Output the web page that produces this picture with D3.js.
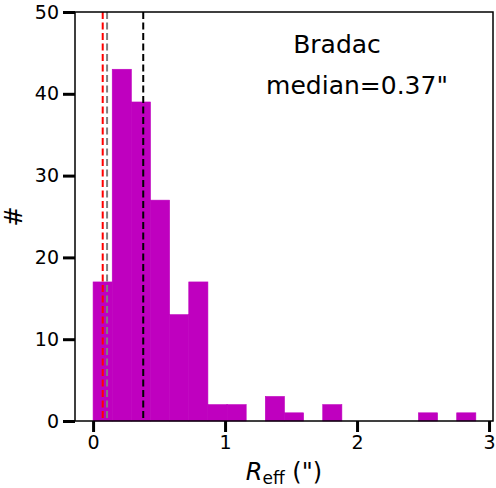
<!DOCTYPE html>
<html><head><meta charset="utf-8">
<script src="https://cdn.jsdelivr.net/npm/d3@7"></script>
<style>body{margin:0;background:#fff}svg{display:block}text{font-family:"DejaVu Sans",sans-serif}</style>
</head><body>
<script>
// data
const binWidth = 0.145;
const binStarts = d3.range(20).map(i => +(i * binWidth).toFixed(3));
const counts = [17, 43, 39, 27, 13, 17, 2, 2, 0, 3, 1, 0, 2, 0, 0, 0, 0, 1, 0, 1];
const xTicks = [0, 1, 2, 3];
const yTicks = [0, 10, 20, 30, 40, 50];
const refLines = [
  {value: 0.073, color: "#ff0000"},
  {value: 0.106, color: "#808080"},
  {value: 0.38, color: "#000000"}
];
const title = "Bradac";
const medianLabel = 'median=0.37"';

const W = 496, H = 488;
const m = {left: 75, right: 3, top: 12, bottom: 67};
const svg = d3.select("body").append("svg").attr("width", W).attr("height", H);
const x = d3.scaleLinear().domain([-0.137, 3.03]).range([m.left, W - m.right]);
const y = d3.scaleLinear().domain([0, 50]).range([H - m.bottom, m.top]);

svg.append("g").selectAll("rect").data(counts).join("rect")
  .attr("x", (d, i) => x(binStarts[i]))
  .attr("width", (d, i) => x(binStarts[i] + binWidth) - x(binStarts[i]))
  .attr("y", d => y(d))
  .attr("height", d => y(0) - y(d))
  .attr("fill", "#bf00bf").attr("stroke", "#bf00bf").attr("stroke-width", 0.6);

svg.append("g").selectAll("line").data(refLines).join("line")
  .attr("x1", d => x(d.value)).attr("x2", d => x(d.value))
  .attr("y1", y(50)).attr("y2", y(0))
  .attr("stroke", d => d.color).attr("stroke-width", 2)
  .attr("stroke-dasharray", "7,3.5");

// frame
svg.append("rect").attr("x", x.range()[0]).attr("y", m.top)
  .attr("width", x.range()[1] - x.range()[0]).attr("height", y(0) - m.top)
  .attr("fill", "none").attr("stroke", "#000").attr("stroke-width", 1.5);

const xa = svg.append("g").attr("transform", `translate(0,${y(0)})`)
  .call(d3.axisBottom(x).tickValues(xTicks).tickFormat(d3.format("d")).tickSize(11).tickPadding(4));
const ya = svg.append("g").attr("transform", `translate(${m.left},0)`)
  .call(d3.axisLeft(y).tickValues(yTicks).tickFormat(d3.format("d")).tickSize(12).tickPadding(4));
[xa, ya].forEach(a => {
  a.select(".domain").remove();
  a.selectAll(".tick line").attr("stroke", "#000").attr("stroke-width", 3);
  a.selectAll(".tick text").attr("font-size", 19).attr("fill", "#000")
    .attr("font-family", "DejaVu Sans");
});

// labels
svg.append("text").attr("transform", `translate(22,${(m.top + y(0)) / 2}) rotate(-90)`)
  .attr("text-anchor", "middle").attr("font-size", 24).text("#");

const xl = svg.append("text").attr("x", (x.range()[0] + x.range()[1]) / 2).attr("y", 480)
  .attr("text-anchor", "middle").attr("font-size", 24);
xl.append("tspan").attr("font-style", "italic").text("R");
xl.append("tspan").attr("font-size", 17).attr("dy", 4).text("eff");
xl.append("tspan").attr("dy", -4).text(' (")');

svg.append("text").attr("x", 337).attr("y", 53).attr("text-anchor", "middle")
  .attr("font-size", 25).text(title);
svg.append("text").attr("x", 357).attr("y", 94).attr("text-anchor", "middle")
  .attr("font-size", 25).text(medianLabel);
</script>
</body></html>
